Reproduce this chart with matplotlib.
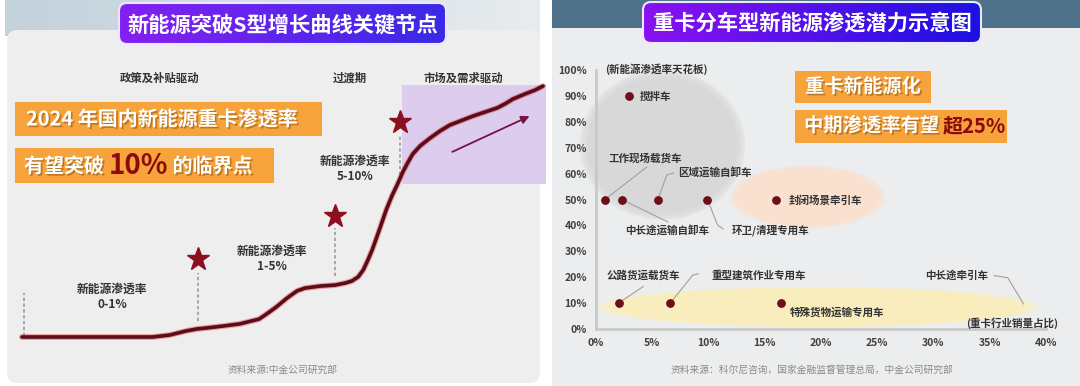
import numpy as np
import matplotlib
matplotlib.use('Agg')
import matplotlib.pyplot as plt
import matplotlib.patheffects as pe
from matplotlib.patches import FancyBboxPatch, Rectangle, Ellipse, FancyArrowPatch
from matplotlib.colors import LinearSegmentedColormap

plt.rcParams['font.family'] = ['Noto Sans CJK SC', 'DejaVu Sans']

# ---- left: schematic S curve (arbitrary 0-100 units) ----
s_x = [0, 25.1, 28.4, 31.5, 33.6, 35.5, 38.8, 41.8, 45.5, 47.2, 48.8, 50.9, 52.8, 54.3,
       57.2, 60.1, 62.0, 63.3, 64.5, 65.5, 66.4, 67.2, 67.9, 68.9, 69.9, 71.0, 72.0,
       73.1, 74.1, 75.0, 76.4, 78.3, 80.2, 82.1, 84.1, 86.6, 88.9, 91.2, 92.7, 94.2,
       96.5, 98.5, 100]
s_y = [0, 0, 0.8, 2.4, 3.2, 3.6, 4.4, 5.2, 7.1, 9.5, 11.9, 15.5, 18.3, 19.4,
       20.2, 20.6, 21.4, 22.2, 23.8, 26.6, 30.6, 34.5, 38.5, 44.4, 50.4, 56.0, 60.3,
       65.5, 69.4, 72.6, 75.8, 78.9, 81.7, 84.1, 85.7, 87.7, 89.3, 90.9, 92.5, 94.4,
       96.4, 98.0, 99.6]
star_x = [33.8, 60.1, 72.6]
star_y = [31.0, 48.0, 85.3]
stage_labels = ['新能源渗透率\n0-1%', '新能源渗透率\n1-5%', '新能源渗透率\n5-10%']
phases = ['政策及补贴驱动', '过渡期', '市场及需求驱动']

# ---- right: share of HDT sales (%) vs NEV penetration ceiling (%) ----
trucks = ['搅拌车', '工作现场载货车', '中长途运输自卸车', '区域运输自卸车', '环卫/清理专用车',
          '封闭场景牵引车', '公路货运载货车', '重型建筑作业专用车', '特殊货物运输专用车']
share = [2.9, 0.8, 2.3, 5.5, 9.9, 16.0, 2.0, 6.6, 16.4]
ceiling = [90, 50, 50, 50, 50, 50, 10, 10, 10]
xticks = [0, 5, 10, 15, 20, 25, 30, 35, 40]
yticks = [0, 10, 20, 30, 40, 50, 60, 70, 80, 90, 100]

DARK = '#5a0d18'
ORANGE = '#f5a33a'
TXT = '#333333'

fig = plt.figure(figsize=(10.8, 3.86), dpi=100)
bg = fig.add_axes([0, 0, 1, 1])
bg.set_axis_off()


def grad(ax, x0, y0, x1, y1, c0, c1, patch=None, z=1):
    g = np.linspace(0, 1, 256).reshape(1, -1)
    cm = LinearSegmentedColormap.from_list('g', [c0, c1])
    im = ax.imshow(g, extent=(x0, x1, y1, y0), cmap=cm, aspect='auto', zorder=z)
    if patch is not None:
        im.set_clip_path(patch)


# panels
grad(bg, 5, 0, 540, 36, '#c3d1db', '#e8ecef', z=0)
bg.add_patch(FancyBboxPatch((7, 30), 533, 353, boxstyle='round,pad=0,rounding_size=10',
                            fc='#eeeeee', ec='none', zorder=1))
bg.add_patch(Rectangle((552, 0), 528, 28, fc='#4e7088', ec='none', zorder=1))
bg.add_patch(Rectangle((552, 28), 528, 358, fc='#ebedee', ec='none', zorder=1))

# title boxes
for (x0, y0, x1, y1, c0, c1, title) in [
        (119, 3, 446, 44, '#8420f2', '#3a2ae6', '新能源突破S型增长曲线关键节点'),
        (643, 2, 981, 43, '#8a12f0', '#1c10e2', '重卡分车型新能源渗透潜力示意图')]:
    p = FancyBboxPatch((x0, y0), x1 - x0, y1 - y0, boxstyle='round,pad=0,rounding_size=8',
                       fc='none', ec='#ece6ff', lw=1.5, zorder=4)
    bg.add_patch(p)
    grad(bg, x0, y0, x1, y1, c0, c1, patch=p, z=3)
    bg.text((x0 + x1) / 2, (y0 + y1) / 2 + 1, title, color='white', fontsize=15.3,
            fontweight='bold', ha='center', va='center', zorder=5)

shadow = [pe.withSimplePatchShadow(offset=(1.2, -1.2), shadow_rgbFace='#9a5a10', alpha=0.6)]

# orange boxes (left)
bg.add_patch(Rectangle((15, 102), 307, 34, fc=ORANGE, ec='none', zorder=3))
bg.add_patch(Rectangle((15, 148), 259, 35, fc=ORANGE, ec='none', zorder=3))
bg.text(26, 119, '2024 年国内新能源重卡渗透率', color='white', fontsize=14.4,
        fontweight='bold', va='center', zorder=5, path_effects=shadow)
t1 = bg.text(24, 166, '有望突破 ', color='white', fontsize=14.4, fontweight='bold',
             va='center', zorder=5, path_effects=shadow)
t2 = bg.annotate('10%', xy=(1, 0.5), xycoords=t1, va='center', ha='left', color='#8b0a0a',
                 fontsize=20, fontweight='bold', zorder=5)
bg.annotate(' 的临界点', xy=(1, 0.5), xycoords=t2, va='center', ha='left', color='white',
            fontsize=14.4, fontweight='bold', zorder=5, path_effects=shadow)

# orange boxes (right)
bg.add_patch(Rectangle((795, 71), 136, 32, fc=ORANGE, ec='none', zorder=3))
bg.add_patch(Rectangle((795, 110), 212, 33, fc=ORANGE, ec='none', zorder=3))
bg.text(805, 87, '重卡新能源化', color='white', fontsize=13.9, fontweight='bold',
        va='center', zorder=5, path_effects=shadow)
t3 = bg.text(804, 126, '中期渗透率有望 ', color='white', fontsize=13.9, fontweight='bold',
             va='center', zorder=5, path_effects=shadow)
bg.annotate('超25%', xy=(1, 0.5), xycoords=t3, va='center', ha='left', color='#8b0a0a',
            fontsize=14.5, fontweight='bold', zorder=5)

# sources
bg.text(283, 370, '资料来源:中金公司研究部', ha='center', va='center', fontsize=7,
        color='#8a8a8a', zorder=5)
bg.text(812, 370, '资料来源：科尔尼咨询，国家金融监督管理总局，中金公司研究部', ha='center',
        va='center', fontsize=7, color='#8a8a8a', zorder=5)

bg.set_xlim(0, 1080)
bg.set_ylim(386, 0)

# ---- left chart ----
ax = fig.add_axes([22 / 1080, 49 / 386, 521 / 1080, 252 / 386])
ax.set_xlim(0, 100)
ax.set_ylim(0, 100)
ax.set_axis_off()
ax.add_patch(Rectangle((72.9, 60.7), 27.6, 39.3, fc='#dccdef', ec='none', zorder=1, clip_on=False))
ax.plot(s_x, s_y, color='#e0404a', lw=4.2, alpha=0.45, solid_capstyle='round',
        solid_joinstyle='round', clip_on=False, zorder=3)
ax.plot(s_x, s_y, color=DARK, lw=2.6, solid_capstyle='round', solid_joinstyle='round',
        clip_on=False, zorder=4)
ax.plot(star_x, star_y, ls='none', marker='*', ms=17, color='#8b1020', zorder=5, clip_on=False)
for x, ytop, ybot in [(0.4, 17.5, 0.5), (star_x[0], 25.4, 6.3), (star_x[1], 43.3, 24.2),
                      (star_x[2], 80.2, 64.3)]:
    ax.plot([x, x], [ybot, ytop], color='#9a9a9a', lw=1.2, ls=(0, (2, 1.5)), zorder=2)
for label, (lx, ly) in zip(stage_labels, [(17.3, 15.9), (48.0, 31.0), (63.9, 66.7)]):
    ax.text(lx, ly, label, ha='center', va='center', fontsize=8.5, fontweight='bold',
            color=TXT, linespacing=1.3, zorder=5)
for label, lx in zip(phases, [26.5, 63.0, 84.8]):
    ax.text(lx, 102.8, label, ha='center', va='center', fontsize=8.2, fontweight='bold',
            color=TXT, zorder=6, clip_on=False)
ax.add_patch(FancyArrowPatch((82.1, 73.0), (97.9, 88.1), arrowstyle='-|>', mutation_scale=12,
                             color='#7a1040', lw=1.3, zorder=4))

# ---- right chart ----
ax2 = fig.add_axes([596 / 1080, 57 / 386, 450 / 1080, 259 / 386])
ax2.set_facecolor('none')
ax2.set_xlim(0, 40)
ax2.set_ylim(0, 100)

# soft ellipses
for (cx, cy, w, h, col, a) in [(5.9, 71, 14.7, 58, '#d6d6d6', 0.3),
                               (18.8, 51, 13.8, 24.3, '#fde0cc', 0.35),
                               (19.7, 8.5, 39.4, 15.8, '#fdeeb8', 0.35)]:
    for k in range(5):
        s = 1 - k * 0.025
        ax2.add_patch(Ellipse((cx, cy), w * s, h * s, fc=col, ec='none', alpha=a,
                              zorder=1, clip_on=False))

ax2.scatter(share, ceiling, s=28, color='#6b0f1a', zorder=5, clip_on=False)

for sp in ['top', 'right']:
    ax2.spines[sp].set_visible(False)
for sp in ['left', 'bottom']:
    ax2.spines[sp].set_color('#c8c8c8')
    ax2.spines[sp].set_linewidth(2)
ax2.set_xticks(xticks)
ax2.set_xticklabels([f'{v}%' for v in xticks])
ax2.set_yticks(yticks)
ax2.set_yticklabels([f'{v}%' for v in yticks])
ax2.tick_params(length=0, labelsize=7.5, labelcolor='#404040', pad=6.5)
for lab in ax2.get_xticklabels() + ax2.get_yticklabels():
    lab.set_fontweight('bold')

lead = dict(color='#a0a0a0', lw=0.8, zorder=3)
fs = 7.6
# labels and leader lines
ax2.text(3.9, 89.5, trucks[0], fontsize=fs, fontweight='bold', color=TXT, va='center')
ax2.plot([0.8, 4.5], [50, 62.5], **lead)
ax2.text(4.4, 65.8, trucks[1], fontsize=fs, fontweight='bold', color=TXT, ha='center', va='center')
ax2.plot([2.3, 6.4], [50, 41.3], **lead)
ax2.text(6.3, 38.0, trucks[2], fontsize=fs, fontweight='bold', color=TXT, ha='center', va='center')
ax2.plot([5.5, 6.3, 6.9], [50, 59.5, 60.2], **lead)
ax2.text(7.3, 60.6, trucks[3], fontsize=fs, fontweight='bold', color=TXT, va='center')
ax2.plot([9.9, 10.8, 11.3], [50, 40.2, 38.6], **lead)
ax2.text(12.1, 38.0, trucks[4], fontsize=fs, fontweight='bold', color=TXT, va='center')
ax2.text(17.1, 49.6, trucks[5], fontsize=fs, fontweight='bold', color=TXT, va='center')
ax2.plot([2.0, 4.2], [10, 16.4], **lead)
ax2.text(4.2, 20.5, trucks[6], fontsize=fs, fontweight='bold', color=TXT, ha='center', va='center')
ax2.plot([6.6, 8.6, 9.1], [10, 20.8, 21.3], **lead)
ax2.text(10.3, 20.5, trucks[7], fontsize=fs, fontweight='bold', color=TXT, va='center')
ax2.text(17.2, 6.4, trucks[8], fontsize=fs, fontweight='bold', color=TXT, va='center')
ax2.plot([35.4, 36.6, 38.0], [20.6, 19.8, 9.7], **lead)
ax2.text(34.9, 20.5, '中长途牵引车', fontsize=fs, fontweight='bold', color=TXT, ha='right', va='center')
ax2.text(37.0, 2.4, '(重卡行业销量占比)', fontsize=fs, fontweight='bold', color=TXT,
         ha='center', va='center', clip_on=False)
ax2.text(0.8, 100.4, '(新能源渗透率天花板)', fontsize=fs, fontweight='bold', color=TXT,
         va='center', clip_on=False)

fig.savefig('out.png', dpi=100)
